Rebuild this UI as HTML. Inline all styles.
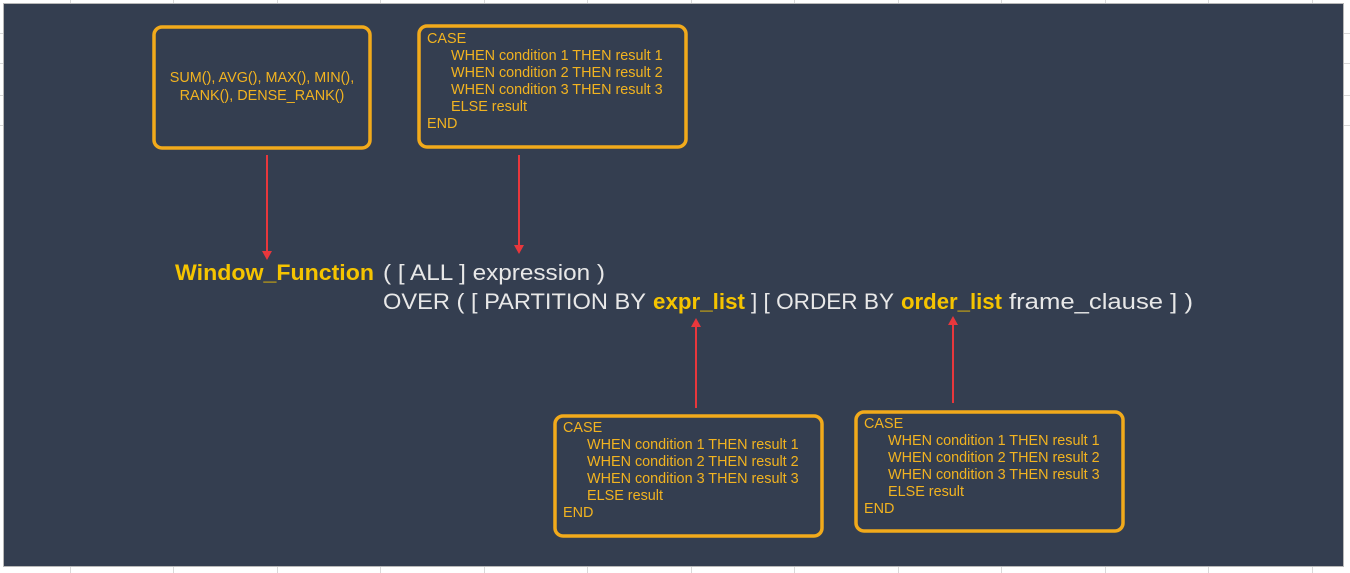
<!DOCTYPE html>
<html><head><meta charset="utf-8"><style>
html,body{margin:0;padding:0;background:#fff;}
svg{display:block}
</style></head><body>
<svg width="1350" height="573" xmlns="http://www.w3.org/2000/svg" font-family="Liberation Sans, Arial, sans-serif">
<g stroke="#d9d9d9" stroke-width="1">
<line x1="70.5" y1="0" x2="70.5" y2="573"/><line x1="173.5" y1="0" x2="173.5" y2="573"/><line x1="277.5" y1="0" x2="277.5" y2="573"/><line x1="380.5" y1="0" x2="380.5" y2="573"/><line x1="484.5" y1="0" x2="484.5" y2="573"/><line x1="587.5" y1="0" x2="587.5" y2="573"/><line x1="691.5" y1="0" x2="691.5" y2="573"/><line x1="794.5" y1="0" x2="794.5" y2="573"/><line x1="898.5" y1="0" x2="898.5" y2="573"/><line x1="1001.5" y1="0" x2="1001.5" y2="573"/><line x1="1105.5" y1="0" x2="1105.5" y2="573"/><line x1="1208.5" y1="0" x2="1208.5" y2="573"/><line x1="1312.5" y1="0" x2="1312.5" y2="573"/>
<line x1="0" y1="33.5" x2="1350" y2="33.5"/><line x1="0" y1="63.5" x2="1350" y2="63.5"/><line x1="0" y1="95.5" x2="1350" y2="95.5"/><line x1="0" y1="125.5" x2="1350" y2="125.5"/>
</g>
<rect x="3" y="3" width="1341" height="564" fill="#b8b8b8"/>
<rect x="4" y="4" width="1339" height="562" fill="#343e50"/>
<g fill="none" stroke="#f2aa1b" stroke-width="3.5">
<rect x="154" y="27" width="216" height="121" rx="8"/>
<rect x="419" y="26" width="267" height="121" rx="8"/>
<rect x="555" y="416" width="267" height="120" rx="8"/>
<rect x="856" y="412" width="267" height="119" rx="8"/>
</g>
<g fill="#f2b320" font-size="14.4">
<text x="262" y="82" text-anchor="middle">SUM(), AVG(), MAX(), MIN(),</text>
<text x="262" y="100" text-anchor="middle">RANK(), DENSE_RANK()</text>
<g transform="translate(427,43)"><text>CASE</text><text x="24" y="17">WHEN condition 1 THEN result 1</text><text x="24" y="34">WHEN condition 2 THEN result 2</text><text x="24" y="51">WHEN condition 3 THEN result 3</text><text x="24" y="68">ELSE result</text><text y="85">END</text></g>
<g transform="translate(563,432)"><text>CASE</text><text x="24" y="17">WHEN condition 1 THEN result 1</text><text x="24" y="34">WHEN condition 2 THEN result 2</text><text x="24" y="51">WHEN condition 3 THEN result 3</text><text x="24" y="68">ELSE result</text><text y="85">END</text></g>
<g transform="translate(864,428)"><text>CASE</text><text x="24" y="17">WHEN condition 1 THEN result 1</text><text x="24" y="34">WHEN condition 2 THEN result 2</text><text x="24" y="51">WHEN condition 3 THEN result 3</text><text x="24" y="68">ELSE result</text><text y="85">END</text></g>
</g>
<g font-size="22">
<text x="175" y="280" fill="#f5c400" font-weight="bold" textLength="199" lengthAdjust="spacingAndGlyphs">Window_Function</text>
<text x="383" y="280" fill="#e8e8e8" textLength="222" lengthAdjust="spacingAndGlyphs">( [ ALL ] expression )</text>
<text x="383" y="309" fill="#e8e8e8" textLength="263" lengthAdjust="spacingAndGlyphs">OVER (  [  PARTITION BY</text>
<text x="653" y="309" fill="#f5c400" font-weight="bold" textLength="92" lengthAdjust="spacingAndGlyphs">expr_list</text>
<text x="751" y="309" fill="#e8e8e8" textLength="143" lengthAdjust="spacingAndGlyphs">] [ ORDER BY</text>
<text x="901" y="309" fill="#f5c400" font-weight="bold" textLength="101" lengthAdjust="spacingAndGlyphs">order_list</text>
<text x="1009" y="309" fill="#e8e8e8" textLength="184" lengthAdjust="spacingAndGlyphs">frame_clause ] )</text>
</g>
<g stroke="#e8373c" stroke-width="2">
<line x1="267" y1="155" x2="267" y2="252"/>
<line x1="519" y1="155" x2="519" y2="246"/>
<line x1="696" y1="408" x2="696" y2="326"/>
<line x1="953" y1="403" x2="953" y2="324"/>
</g>
<g fill="#e8373c">
<polygon points="262,251 272,251 267,260"/>
<polygon points="514,245 524,245 519,254"/>
<polygon points="691,327 701,327 696,318"/>
<polygon points="948,325 958,325 953,316"/>
</g>
</svg>
</body></html>
